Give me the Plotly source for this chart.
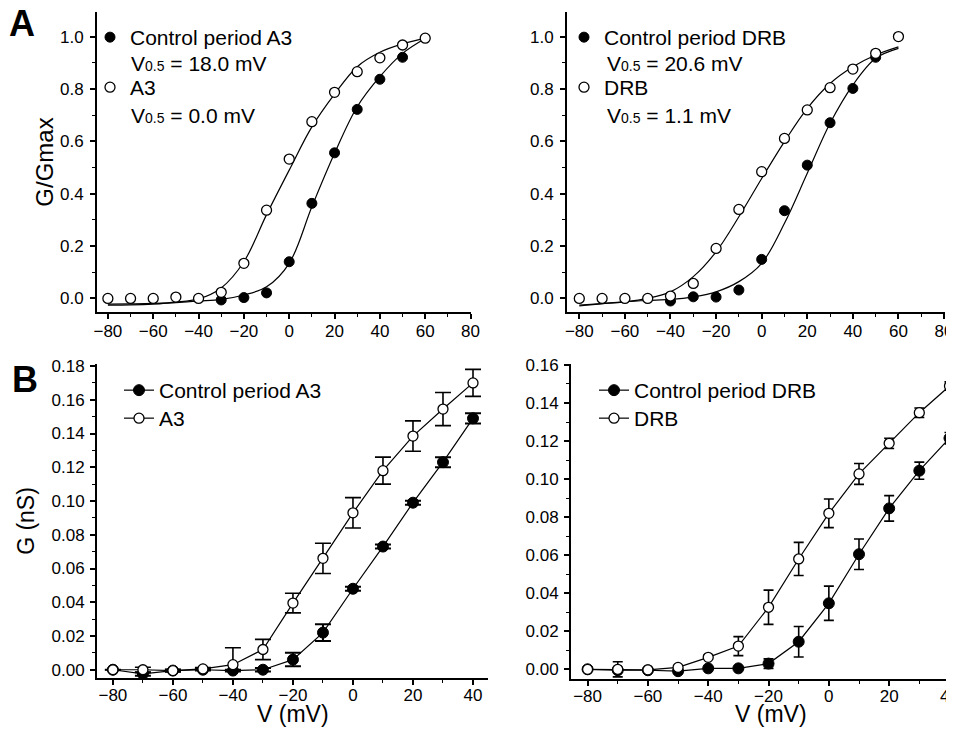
import plotly.graph_objects as go

# ---------------- data ----------------
# Panel A (normalised conductance)
V_A3_open = [-80, -70, -60, -50, -40, -30, -20, -10, 0, 10, 20, 30, 40, 50, 60]
A3_norm = [0.0, 0.0, 0.0, 0.005, 0.0, 0.023, 0.134, 0.337, 0.532, 0.675, 0.787, 0.866, 0.919, 0.968, 0.994]
V_A3_ctrl = [-30, -20, -10, 0, 10, 20, 30, 40, 50]
ctrlA3_norm = [-0.006, 0.003, 0.021, 0.14, 0.363, 0.556, 0.722, 0.837, 0.921]

V_DRB_open = [-80, -70, -60, -50, -40, -30, -20, -10, 0, 10, 20, 30, 40, 50, 60]
DRB_norm = [0.0, 0.0, 0.0, 0.0, 0.009, 0.057, 0.191, 0.34, 0.484, 0.611, 0.72, 0.805, 0.876, 0.936, 1.0]
V_DRB_ctrl = [-40, -30, -20, -10, 0, 10, 20, 30, 40, 50]
ctrlDRB_norm = [-0.01, 0.006, 0.005, 0.032, 0.149, 0.335, 0.509, 0.671, 0.802, 0.921]

# fitted curves
V_fit = [-80, -70, -60, -50, -40, -30, -20, -10, 0, 10, 20, 30, 40, 50, 60]
fit_A3 = [-0.022, -0.021, -0.019, -0.014, -0.002, 0.04, 0.14, 0.32, 0.49, 0.655, 0.78, 0.885, 0.94, 0.972, 0.993]
fit_ctrlA3 = [-0.026, -0.025, -0.022, -0.016, -0.01, -0.004, 0.013, 0.044, 0.134, 0.35, 0.554, 0.732, 0.847, 0.936, 0.993]
fit_DRB = [-0.026, -0.02, -0.013, 0.0, 0.025, 0.083, 0.178, 0.312, 0.458, 0.599, 0.726, 0.821, 0.885, 0.93, 0.961]
fit_ctrlDRB = [-0.029, -0.02, -0.013, -0.008, -0.004, 0.006, 0.025, 0.064, 0.134, 0.287, 0.478, 0.669, 0.815, 0.917, 0.955]

# half-activation voltages shown in the legends (mV)
V05_ctrlA3, V05_A3 = "18.0", "0.0"
V05_ctrlDRB, V05_DRB = "20.6", "1.1"

# Panel B (conductance, nS)
V_B = [-80, -70, -60, -50, -40, -30, -20, -10, 0, 10, 20, 30, 40]
ctrlA3_G = [0.0, -0.0025, -0.0005, 0.0, -0.0005, 0.0, 0.006, 0.022, 0.048, 0.073, 0.099, 0.123, 0.149]
ctrlA3_err = [0, 0.001, 0.0005, 0.0005, 0.0005, 0.001, 0.004, 0.005, 0.0012, 0.0012, 0.0012, 0.003, 0.003]
A3_G = [0.0, 0.0, -0.0005, 0.0005, 0.003, 0.012, 0.0395, 0.066, 0.093, 0.118, 0.1385, 0.1545, 0.170]
A3_err_plus = [0, 0.0015, 0.0008, 0.0008, 0.010, 0.006, 0.0058, 0.009, 0.009, 0.008, 0.009, 0.0098, 0.008]
A3_err_minus = [0, 0.0015, 0.0008, 0.0008, 0.003, 0.006, 0.0058, 0.009, 0.009, 0.008, 0.009, 0.0098, 0.008]

ctrlDRB_G = [0.0, -0.0005, -0.0005, -0.001, 0.0005, 0.0005, 0.003, 0.0145, 0.0347, 0.0605, 0.0846, 0.1044, 0.1215]
ctrlDRB_err = [0, 0.001, 0.0005, 0.001, 0.0005, 0.0005, 0.0025, 0.008, 0.009, 0.008, 0.0067, 0.0045, 0.003]
DRB_G = [0.0, 0.0, -0.0003, 0.001, 0.0063, 0.0122, 0.0326, 0.058, 0.082, 0.1027, 0.1188, 0.1349, 0.1489]
DRB_err = [0, 0.004, 0.001, 0.001, 0.001, 0.005, 0.009, 0.0087, 0.0075, 0.0055, 0.0027, 0.0025, 0.0022]

# ---------------- figure ----------------
OFF = 8                      # the page body adds an 8 px margin
W, H = 954 - OFF, 734 - OFF
FONT = "Liberation Sans, Arial, Helvetica, sans-serif"
fig = go.Figure()


def px_x(p):
    return (p - OFF) / W


def px_y(p):
    return 1 - (p - OFF) / H


SUB = "<span style='font-size:14px'>0.5</span>"

filled = dict(symbol="circle", size=10, color="black", line=dict(color="black", width=1))
opened = dict(symbol="circle", size=10, color="white", line=dict(color="black", width=1.3))
fitline = dict(color="black", width=1.2, shape="spline")

# ---- Panel A left ----
fig.add_trace(go.Scatter(x=V_fit, y=fit_A3, mode="lines", line=fitline,
                         xaxis="x", yaxis="y", showlegend=False, hoverinfo="skip"))
fig.add_trace(go.Scatter(x=V_fit, y=fit_ctrlA3, mode="lines", line=fitline,
                         xaxis="x", yaxis="y", showlegend=False, hoverinfo="skip"))
fig.add_trace(go.Scatter(x=V_A3_ctrl, y=ctrlA3_norm, mode="markers", marker=filled, xaxis="x", yaxis="y",
                         name="Control period A3", legend="legend"))
fig.add_trace(go.Scatter(x=V_A3_open, y=A3_norm, mode="markers", marker=opened, xaxis="x", yaxis="y",
                         name="A3", legend="legend2"))

# ---- Panel A right ----
fig.add_trace(go.Scatter(x=V_fit, y=fit_DRB, mode="lines", line=fitline,
                         xaxis="x2", yaxis="y2", showlegend=False, hoverinfo="skip"))
fig.add_trace(go.Scatter(x=V_fit, y=fit_ctrlDRB, mode="lines", line=fitline,
                         xaxis="x2", yaxis="y2", showlegend=False, hoverinfo="skip"))
fig.add_trace(go.Scatter(x=V_DRB_ctrl, y=ctrlDRB_norm, mode="markers", marker=filled, xaxis="x2", yaxis="y2",
                         name="Control period DRB", legend="legend3"))
fig.add_trace(go.Scatter(x=V_DRB_open, y=DRB_norm, mode="markers", marker=opened, xaxis="x2", yaxis="y2",
                         name="DRB", legend="legend4"))

# ---- Panel B left ----
fig.add_trace(go.Scatter(x=V_B, y=ctrlA3_G, mode="lines+markers", marker=dict(filled, size=11),
                         line=dict(color="black", width=1.2),
                         error_y=dict(type="data", array=ctrlA3_err, color="black", thickness=2, width=8),
                         xaxis="x3", yaxis="y3", name="Control period A3", legend="legend5"))
fig.add_trace(go.Scatter(x=V_B, y=A3_G, mode="lines+markers", marker=opened,
                         line=dict(color="black", width=1.2),
                         error_y=dict(type="data", array=A3_err_plus, arrayminus=A3_err_minus, color="black",
                                      thickness=1.6, width=8),
                         xaxis="x3", yaxis="y3", name="A3", legend="legend6"))

# ---- Panel B right ----
fig.add_trace(go.Scatter(x=V_B, y=ctrlDRB_G, mode="lines+markers", marker=dict(filled, size=11),
                         line=dict(color="black", width=1.2),
                         error_y=dict(type="data", array=ctrlDRB_err, color="black", thickness=1.6, width=5),
                         xaxis="x4", yaxis="y4", name="Control period DRB", legend="legend7"))
fig.add_trace(go.Scatter(x=V_B, y=DRB_G, mode="lines+markers", marker=opened,
                         line=dict(color="black", width=1.2),
                         error_y=dict(type="data", array=DRB_err, color="black", thickness=1.6, width=5),
                         xaxis="x4", yaxis="y4", name="DRB", legend="legend8"))


def tf(size):
    return dict(family=FONT, size=size, color="black")


def xax(domain, rng, anchor, fsize, standoff):
    return dict(domain=domain, range=rng, anchor=anchor, showline=True, linewidth=2, linecolor="black",
                ticks="outside", ticklen=5, tickwidth=1.5, tickcolor="black", dtick=20, tick0=0,
                minor=dict(dtick=10, ticks="outside", ticklen=3, tickwidth=1.2, tickcolor="black"),
                showgrid=False, zeroline=False, tickfont=tf(fsize), automargin=False, fixedrange=True,
                ticklabeloverflow="allow", ticklabelstandoff=standoff)


def yax(domain, rng, anchor, dtick, fmt, fsize, title=None, tsize=24, standoff=0, lstandoff=2):
    d = dict(domain=domain, range=rng, anchor=anchor, showline=True, linewidth=2, linecolor="black",
             ticks="outside", ticklen=5, tickwidth=1.5, tickcolor="black", dtick=dtick, tick0=0,
             tickformat=fmt,
             minor=dict(dtick=dtick / 2, ticks="outside", ticklen=3, tickwidth=1.2, tickcolor="black"),
             showgrid=False, zeroline=False, tickfont=tf(fsize), automargin=False, fixedrange=True,
             ticklabeloverflow="allow", ticklabelstandoff=lstandoff)
    if title:
        d["title"] = dict(text=title, font=tf(tsize), standoff=standoff)
    return d


def leg(xp, yp, size):
    # xp: page x of the legend box, yp: page y of the top of the box
    return dict(x=px_x(xp), y=px_y(yp), xanchor="left", yanchor="top", bgcolor="rgba(0,0,0,0)",
                font=tf(size))


def note(text, xp, yp, size, bold=False, anchor="left"):
    return dict(text=f"<b>{text}</b>" if bold else text, x=px_x(xp), y=px_y(yp), xref="paper", yref="paper",
                xanchor=anchor, yanchor="middle", showarrow=False, font=tf(size))


fig.update_layout(
    width=W, height=H,
    margin=dict(l=0, r=0, t=0, b=0),
    paper_bgcolor="white", plot_bgcolor="white",
    font=dict(family=FONT, color="black"),
    xaxis=xax([px_x(97), px_x(471)], [-84.8, 80.2], "y", 17, -2),
    yaxis=yax([px_y(312), px_y(12)], [-0.052, 1.094], "x", 0.2, ".1f", 17, "G/Gmax", 24, 0, 3),
    xaxis2=xax([px_x(567), px_x(944.5)], [-85.4, 80.2], "y2", 17, -2),
    yaxis2=yax([px_y(312), px_y(12)], [-0.052, 1.094], "x2", 0.2, ".1f", 17, lstandoff=3),
    xaxis3=xax([px_x(97), px_x(488)], [-85.3, 45], "y3", 17, -4),
    yaxis3=yax([px_y(678), px_y(364)], [-0.0049, 0.1812], "x3", 0.02, ".2f", 17, "G (nS)", 23, 10, 2),
    xaxis4=xax([px_x(571), 1.0], [-85.5, 41.5], "y4", 17, -4),
    yaxis4=yax([px_y(679), px_y(364)], [-0.0051, 0.1605], "x4", 0.02, ".2f", 17, lstandoff=2),
    legend=leg(90, 17, 21),
    legend2=leg(90, 67, 21),
    legend3=leg(564, 17, 21),
    legend4=leg(564, 67, 21),
    legend5=leg(119, 370, 21),
    legend6=leg(119, 398, 21),
    legend7=leg(594, 370, 21),
    legend8=leg(594, 398, 21),
    annotations=[
        note("A", 7, 23, 36, True),
        note("B", 10, 380, 36, True),
        note("V" + SUB + " = " + V05_ctrlA3 + " mV", 129, 63, 21),
        note("V" + SUB + " = " + V05_A3 + " mV", 129, 115, 21),
        note("V" + SUB + " = " + V05_ctrlDRB + " mV", 605, 63, 21),
        note("V" + SUB + " = " + V05_DRB + " mV", 605, 115, 21),
        note("V (mV)", 293, 714, 23, anchor="center"),
        note("V (mV)", 771, 714, 23, anchor="center"),
    ],
)

fig.write_html("out.html")
